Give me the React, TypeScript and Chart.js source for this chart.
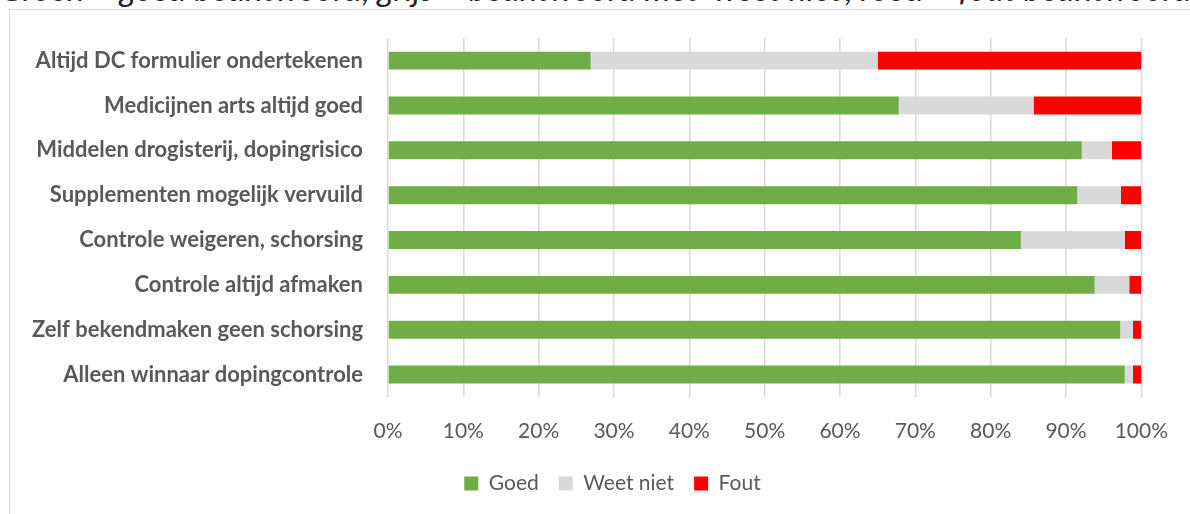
import React, { useEffect, useRef } from "react";
import { Chart, registerables } from "chart.js";
Chart.register(...registerables);

const categories = [
  "Altijd DC formulier ondertekenen",
  "Medicijnen arts altijd goed",
  "Middelen drogisterij, dopingrisico",
  "Supplementen mogelijk vervuild",
  "Controle weigeren, schorsing",
  "Controle altijd afmaken",
  "Zelf bekendmaken geen schorsing",
  "Alleen winnaar dopingcontrole",
];
const goed = [26.9, 67.8, 92.1, 91.5, 84.0, 93.8, 97.2, 97.8];
const weetNiet = [38.1, 17.9, 4.0, 5.8, 13.8, 4.6, 1.7, 1.1];
const fout = [35.0, 14.3, 3.9, 2.7, 2.2, 1.6, 1.1, 1.1];
const seriesNames = ["Goed", "Weet niet", "Fout"];
const titleText =
  "Groen = goed beantwoord, grijs = beantwoord met \u2018weet niet\u2019, rood = fout beantwoord";

const FONT = "Lato, 'Open Sans', sans-serif";
const TEXT = "#595959";

const legendShift = {
  id: "legendShift",
  afterLayout(chart: any) {
    const lg = chart.legend;
    if (!lg) return;
    const dx = 39;
    lg.left += dx;
    lg.right += dx;
    if (lg.legendHitBoxes) lg.legendHitBoxes.forEach((h: any) => (h.left += dx));
  },
};

export default function App() {
  const ref = useRef<HTMLCanvasElement | null>(null);
  useEffect(() => {
    if (!ref.current) return;
    const chart = new Chart(ref.current, {
      type: "bar",
      data: {
        labels: categories,
        datasets: [
          { label: seriesNames[0], data: goed, backgroundColor: "#70AD47" },
          { label: seriesNames[1], data: weetNiet, backgroundColor: "#D9D9D9" },
          { label: seriesNames[2], data: fout, backgroundColor: "#FF0000" },
        ].map((d) => ({ ...d, barPercentage: 0.4, categoryPercentage: 1, borderWidth: 0 })),
      },
      plugins: [legendShift],
      options: {
        indexAxis: "y",
        animation: false,
        responsive: true,
        maintainAspectRatio: false,
        layout: { padding: { top: 38, right: 43, left: 0, bottom: 10 } },
        scales: {
          x: {
            stacked: true,
            min: 0,
            max: 100,
            ticks: {
              stepSize: 10,
              padding: 22,
              color: TEXT,
              font: { family: FONT, size: 21 },
              callback: (v: any) => v + "%",
              maxRotation: 0,
              autoSkip: false,
            },
            grid: { color: "#D9D9D9", lineWidth: 1.5, drawTicks: false },
            border: { display: false },
            afterFit: (axis: any) => {
              axis.height = 56;
            },
          },
          y: {
            stacked: true,
            ticks: {
              padding: 25,
              color: TEXT,
              font: { family: FONT, size: 22, weight: "bold" },
              autoSkip: false,
            },
            grid: { display: false, drawTicks: false },
            border: { display: false },
            afterFit: (axis: any) => {
              axis.width = 388;
            },
          },
        },
        plugins: {
          legend: {
            position: "bottom",
            labels: {
              boxWidth: 14,
              boxHeight: 14,
              padding: 20,
              color: TEXT,
              font: { family: FONT, size: 21 },
            },
          },
          tooltip: { enabled: false },
        },
      } as any,
    });
    return () => chart.destroy();
  }, []);

  return (
    <div
      style={{
        position: "fixed",
        left: 0,
        top: 0,
        width: 1190,
        height: 514,
        overflow: "hidden",
        background: "#fff",
      }}
    >
      <div
        style={{
          position: "absolute",
          left: 0,
          top: -32,
          whiteSpace: "nowrap",
          fontFamily: FONT,
          fontStyle: "italic",
          fontSize: 33.5,
          lineHeight: "40px",
          color: "#222",
        }}
      >
        {titleText}
      </div>
      <div
        style={{
          position: "absolute",
          left: 9,
          top: 9,
          width: 1300,
          height: 600,
          border: "1.5px solid #D9D9D9",
          boxSizing: "border-box",
        }}
      />
      <div style={{ position: "absolute", left: 0, top: 0, width: 1190, height: 514 }}>
        <canvas ref={ref} />
      </div>
    </div>
  );
}
